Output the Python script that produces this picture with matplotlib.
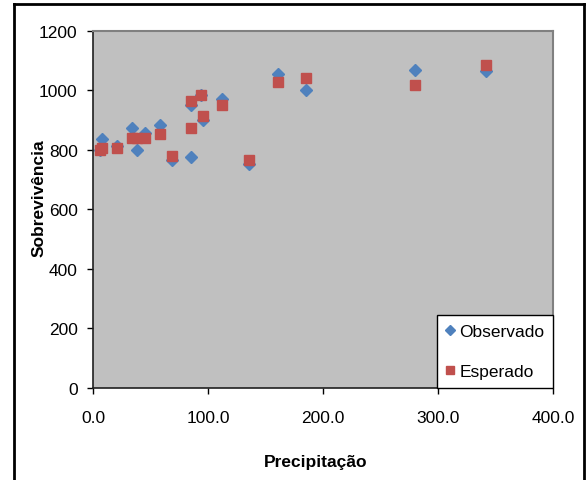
import numpy as np
import matplotlib.pyplot as plt
from matplotlib.lines import Line2D

plt.rcParams['font.family'] = ['Liberation Sans', 'DejaVu Sans']

# precipitation (x) with observed and expected survival
precip = [6.0, 8.0, 21.0, 34.0, 38.0, 45.0, 58.0, 69.0, 85.5, 85.0,
          93.6, 95.4, 112.6, 135.4, 160.8, 185.0, 279.7, 342.0]
observado = [800, 836, 815, 875, 800, 857, 883, 766, 775, 952,
             985, 901, 970, 754, 1054, 1003, 1070, 1067]
esperado = [801, 806, 806, 840, 840, 841, 853, 779, 873, 963,
            985, 915, 951, 765, 1028, 1043, 1020, 1084]

x_ticks = [0, 100, 200, 300, 400]
y_ticks = [0, 200, 400, 600, 800, 1000, 1200]

fig = plt.figure(figsize=(5.87, 4.81), dpi=100)
ax = fig.add_axes([0.1584, 0.1913, 0.7836, 0.7422])
ax.set_facecolor('#C0C0C0')

ax.plot(precip, observado, linestyle='none', marker='D', ms=6.5,
        color='#4F81BD', label='Observado', zorder=3)
ax.plot(precip, esperado, linestyle='none', marker='s', ms=7.5,
        color='#C0504D', label='Esperado', zorder=4)

ax.set_xlim(0, 400)
ax.set_ylim(0, 1200)
ax.set_xticks(x_ticks)
ax.set_xticklabels([f'{v:.1f}' for v in x_ticks])
ax.set_yticks(y_ticks)
ax.tick_params(axis='both', direction='out', length=4.5, width=1,
               labelsize=12.5, color='black')
ax.tick_params(axis='x', pad=11)
ax.tick_params(axis='y', pad=6.5)

for side in ['top', 'right']:
    ax.spines[side].set_color('#808080')
    ax.spines[side].set_linewidth(1.5)
for side in ['left', 'bottom']:
    ax.spines[side].set_color('#202020')
    ax.spines[side].set_linewidth(1.2)

ax.set_xlabel('Precipitação', fontsize=12.5, fontweight='bold')
ax.set_ylabel('Sobrevivência', fontsize=12.5, fontweight='bold')
ax.xaxis.set_label_coords(0.485, -0.185)
ax.yaxis.set_label_coords(-0.102, 0.535)

leg = ax.legend(loc='lower right', bbox_to_anchor=(1, 0), borderaxespad=0,
                fontsize=12.5, frameon=True, fancybox=False, framealpha=1,
                edgecolor='black', borderpad=0.5, labelspacing=1.45,
                handlelength=0.5, handletextpad=0.3, markerscale=0.85)
leg.get_frame().set_linewidth(1.0)

# outer frame (left, top, right)
for xs, ys in [([0.024, 0.024], [0.0, 0.99]),
               ([0.024, 0.995], [0.99, 0.99]),
               ([0.995, 0.995], [0.0, 0.99])]:
    fig.add_artist(Line2D(xs, ys, transform=fig.transFigure,
                          color='black', lw=2))

fig.savefig('out.png', dpi=100)
